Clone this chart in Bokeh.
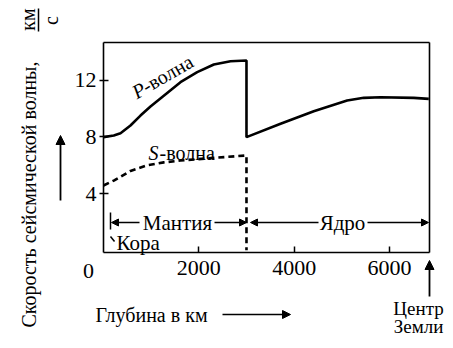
from math import pi
from bokeh.plotting import figure
from bokeh.models import Range1d, FixedTicker, Label, Arrow, NormalHead, LinearAxis
from bokeh.embed import file_html
from bokeh.resources import INLINE

# ---- data ----
depth_p = [0, 216, 357, 566, 776, 986, 1265, 1615, 1966, 2315, 2665, 3000,
           3000, 3715, 4412, 5112, 5461, 5811, 6510, 6825]
vel_p = [7.98, 8.1, 8.26, 8.8, 9.5, 10.14, 10.9, 11.85, 12.56, 13.1, 13.33, 13.38,
         7.98, 8.92, 9.81, 10.56, 10.75, 10.79, 10.75, 10.68]
depth_s = [0, 216, 566, 916, 1265, 1615, 2315, 3000, 3000]
vel_s = [4.57, 4.92, 5.6, 6.0, 6.2, 6.33, 6.52, 6.69, 0.0]
x_ticks = [2000, 4000, 6000]
y_ticks = [4, 8, 12]

# chart box in data units
X0, X1 = 0, 6840
Y0, Y1 = -0.15, 14.65

# chart box in canvas pixels (used to place annotations)
FL, FR, FT, FB = 103, 429, 42, 252
W, H = 445, 340


def X(px):
    return X0 + (px - FL) / (FR - FL) * (X1 - X0)


def Y(py):
    return Y1 - (py - FT) / (FB - FT) * (Y1 - Y0)


FONT = "Liberation Serif"

p = figure(width=W, height=H,
           x_range=Range1d(X(0), X(W)), y_range=Range1d(Y(H), Y(0)),
           output_backend="svg", toolbar_location=None,
           min_border=0, min_border_left=0, min_border_right=0,
           min_border_top=0, min_border_bottom=0)
p.title.visible = False
p.grid.visible = False
p.outline_line_color = None
p.background_fill_color = "white"
p.border_fill_color = "white"


def style_axis(ax, ticks, tin, tout, standoff, labels=True):
    ax.ticker = FixedTicker(ticks=ticks)
    ax.axis_line_color = "black"
    ax.axis_line_width = 1.6
    ax.major_tick_line_color = "black"
    ax.major_tick_line_width = 1.5
    ax.minor_tick_line_color = None
    ax.major_tick_in = tin
    ax.major_tick_out = tout
    ax.major_label_standoff = standoff
    ax.major_label_text_font = FONT
    ax.major_label_text_font_size = "22px"
    ax.major_label_text_color = "black" if labels else None


xa = p.xaxis[0]
ya = p.yaxis[0]
style_axis(xa, x_ticks, 6, 0, 8)
xa.fixed_location = Y0
xa.bounds = (X0, X1)
style_axis(ya, y_ticks, 5, 4, 3)
ya.fixed_location = X0
ya.bounds = (Y0, Y1)

top = LinearAxis(fixed_location=Y1, bounds=(X0, X1))
style_axis(top, [], 0, 0, 0, labels=False)
p.add_layout(top, "above")
right = LinearAxis(fixed_location=X1, bounds=(Y0, Y1))
style_axis(right, [], 0, 0, 0, labels=False)
p.add_layout(right, "right")

# curves
p.line(depth_p, vel_p, line_color="black", line_width=2.6)
p.line(depth_s, vel_s, line_color="black", line_width=2.6, line_dash="6 4")


def lab(px, py, text, size="20px", angle=0.0, align="center", baseline="middle", style="normal"):
    p.add_layout(Label(x=X(px), y=Y(py), text=text, text_font=FONT, text_font_size=size,
                       angle=angle, text_align=align, text_baseline=baseline,
                       text_color="black", text_font_style=style))


def arrow(x1, y1, x2, y2, size=7, width=1.3, head=True):
    p.add_layout(Arrow(x_start=X(x1), y_start=Y(y1), x_end=X(x2), y_end=Y(y2),
                       line_color="black", line_width=width,
                       end=NormalHead(size=size, fill_color="black", line_color="black") if head else None))


# corner zero
lab(88, 270, "0", size="22px")

# y title
lab(28, 194, "Скорость сейсмической волны,", angle=pi / 2)
lab(27, 19, "км", angle=pi / 2)
arrow(38, 31, 38, 8, head=False, width=1.5)
lab(50, 20, "с", angle=pi / 2)
arrow(60, 200, 60, 135, size=9, width=1.8)

# x title
lab(95, 314, "Глубина в км", align="left")
arrow(222, 314, 290, 314, size=8, width=1.5)
lab(418, 308, "Центр", size="19px")
lab(418, 326, "Земли", size="19px")
arrow(429, 296, 429, 260, size=9, width=1.8)

# curve labels
ang = 30 * pi / 180
lab(133, 93, "P", size="20px", angle=ang, align="left", baseline="alphabetic", style="italic")
lab(143, 87, "-волна", size="20px", angle=ang, align="left", baseline="alphabetic")
lab(148, 152, "S", size="20px", align="left", baseline="alphabetic", style="italic")
lab(159, 152, "-волна", size="20px", align="left", baseline="alphabetic")

# regions
yr = 222
arrow(110, 212, 110, 229, head=False, width=1.5)
arrow(110, 236, 114, 241, head=False, width=1.5)
arrow(139, yr, 111, yr)
lab(177, yr, "Мантия", size="21px")
arrow(214, yr, 246, yr)
arrow(318, yr, 250, yr)
lab(342, yr, "Ядро", size="21px")
arrow(367, yr, 428, yr)
lab(116, 242, "Кора", size="21px", align="left")

open("out.html", "w").write(file_html(p, INLINE))
